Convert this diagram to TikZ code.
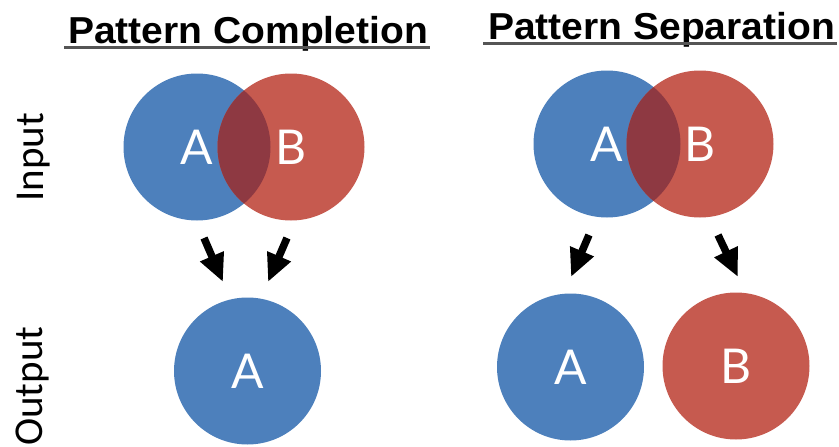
\documentclass[tikz,border=0pt]{standalone}
\usepackage{fontspec}
\setmainfont{Liberation Sans}
\newfontfamily\titlefont{Liberation Sans}
\newfontfamily\labfont{Lato}
\newfontfamily\sidefont{Carlito}
\usetikzlibrary{arrows.meta}
\definecolor{blueC}{RGB}{77,128,188}
\definecolor{redC}{RGB}{198,90,79}
\definecolor{overC}{RGB}{142,57,66}
\definecolor{ulC}{RGB}{85,85,85}
\begin{document}
\begin{tikzpicture}[x=1pt,y=1pt,
  blob/.style={circle,minimum size=147pt,inner sep=0pt,draw=none,fill=#1},
  lab/.style={text=white,font=\labfont\fontsize{48}{48}\selectfont,inner sep=0pt},
  ttl/.style={anchor=base west,inner sep=0pt,font=\titlefont\bfseries\fontsize{37.5}{37.5}\selectfont},
  uline/.style={draw=ulC,line width=2.5pt},
  side/.style={rotate=90,anchor=base west,inner sep=0pt,font=\sidefont\fontsize{41}{41}\selectfont},
  arr/.style={line width=7.5pt,-{Triangle[length=28pt,width=24pt]}}]
\useasboundingbox (0,0) rectangle (839,-447);
% titles
\node[ttl] (t1) at (68,-43) {\scalebox{1.04}[1]{Pattern Completion}};
\node[ttl] (t2) at (488,-39) {\scalebox{1.04}[1]{Pattern Separation}};
\draw[uline] ([shift={(-4,-4.5)}]t1.base west) -- ([shift={(2,-4.5)}]t1.base east);
\draw[uline] ([shift={(-5,-4.5)}]t2.base west) -- ([shift={(2,-4.5)}]t2.base east);
% side labels
\node[side] (inp) at (43,-202) {Input};
\node[side] (outp) at (42,-446) {Output};
% input circles left
\node[blob=blueC] (la) at (197,-147) {};
\node[blob=redC] (lb) at (291,-147) {};
\begin{scope}
  \clip (la.center) circle (73.5);
  \fill[overC] (lb.center) circle (73.5);
\end{scope}
\node[lab] (laT) at (la.center) {A};
\node[lab] (lbT) at (lb.center) {B};
% input circles right
\node[blob=blueC] (ra) at (607,-144) {};
\node[blob=redC] (rb) at (700,-144) {};
\begin{scope}
  \clip (ra.center) circle (73.5);
  \fill[overC] (rb.center) circle (73.5);
\end{scope}
\node[lab] (raT) at (ra.center) {A};
\node[lab] (rbT) at (rb.center) {B};
% output circles
\node[blob=blueC] (oa) at (247.5,-371) {};
\node[lab] (oaT) at (oa.center) {A};
\node[blob=blueC] (oa2) at (570.5,-367) {};
\node[lab] (oa2T) at (oa2.center) {A};
\node[blob=redC] (ob2) at (736,-366) {};
\node[lab] (ob2T) at (ob2.center) {B};
% arrows
\coordinate (a1s) at (204,-238); \coordinate (a1e) at (223,-282);
\coordinate (a2s) at (287,-238); \coordinate (a2e) at (268,-282);
\coordinate (a3s) at (589,-235); \coordinate (a3e) at (571,-277);
\coordinate (a4s) at (718,-235); \coordinate (a4e) at (738,-277);
\draw[arr] (a1s) -- (a1e);
\draw[arr] (a2s) -- (a2e);
\draw[arr] (a3s) -- (a3e);
\draw[arr] (a4s) -- (a4e);
\end{tikzpicture}
\end{document}
